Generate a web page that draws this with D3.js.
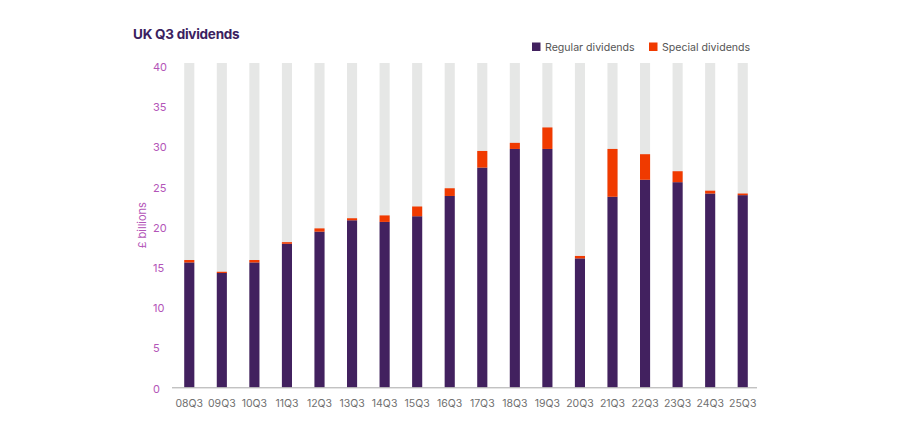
<!DOCTYPE html>
<html>
<head>
<meta charset="utf-8">
<script src="https://cdn.jsdelivr.net/npm/d3@7"></script>
<style>
  html, body { margin: 0; padding: 0; background: #fff; }
  #chart { width: 900px; height: 433px; }
  text { font-family: Inter, "Noto Sans", sans-serif; }
</style>
</head>
<body>
<div id="chart"></div>
<script>
// UK Q3 dividends, £ billions
const quarters = ['08Q3', '09Q3', '10Q3', '11Q3', '12Q3', '13Q3', '14Q3', '15Q3', '16Q3',
  '17Q3', '18Q3', '19Q3', '20Q3', '21Q3', '22Q3', '23Q3', '24Q3', '25Q3'];
const regular = [15.4, 14.1, 15.4, 17.7, 19.2, 20.6, 20.4, 21.1, 23.6,
  27.1, 29.4, 29.4, 15.9, 23.5, 25.6, 25.3, 23.9, 23.7];
const special = [0.3, 0.15, 0.3, 0.2, 0.4, 0.25, 0.8, 1.2, 0.95,
  2.05, 0.75, 2.65, 0.3, 5.9, 3.15, 1.35, 0.35, 0.2];
const yTicks = [0, 5, 10, 15, 20, 25, 30, 35, 40];
const legendItems = [
  { key: 'regular', label: 'Regular dividends' },
  { key: 'special', label: 'Special dividends' }
];

const COLORS = { regular: '#42215f', special: '#f03a00', back: '#e6e7e6' };

(function () {
  const W = 900, H = 433;
  const svg = d3.select('#chart').append('svg')
    .attr('width', W).attr('height', H)
    .attr('viewBox', `0 0 ${W} ${H}`);

  const rows = quarters.map((q, i) => ({ q, regular: regular[i], special: special[i] }));

  const x = d3.scaleBand().domain(quarters).range([173, 759]).paddingInner(0.69).paddingOuter(0.345);
  const y = d3.scaleLinear().domain([0, 40]).range([387.3, 63]);

  // grey background columns
  svg.append('g').selectAll('rect')
    .data(rows).enter().append('rect')
    .attr('x', d => x(d.q)).attr('width', x.bandwidth())
    .attr('y', y(40)).attr('height', y(0) - y(40))
    .attr('fill', COLORS.back);

  const layers = d3.stack().keys(['regular', 'special'])(rows);
  svg.append('g').selectAll('g')
    .data(layers).enter().append('g')
    .attr('fill', d => COLORS[d.key])
    .selectAll('rect')
    .data(d => d).enter().append('rect')
    .attr('x', d => x(d.data.q)).attr('width', x.bandwidth())
    .attr('y', d => y(d[1])).attr('height', d => y(d[0]) - y(d[1]));

  // baseline
  svg.append('line')
    .attr('x1', 172).attr('x2', 757)
    .attr('y1', y(0) + 0.5).attr('y2', y(0) + 0.5)
    .attr('stroke', '#a9a9a9').attr('stroke-width', 1);

  // y tick labels
  svg.append('g').selectAll('text')
    .data(yTicks).enter().append('text')
    .attr('x', 153).attr('y', d => y(d) + 1.5 + (d / 40) * 2.5)
    .attr('dy', '0.35em')
    .style('font-size', '11px').style('fill', '#b355b8')
    .text(d => d);

  svg.append('text')
    .attr('text-anchor', 'middle')
    .attr('transform', `translate(145.5,${y(20) + 0})rotate(-90)`)
    .style('font-size', '11px').style('fill', '#b355b8')
    .text('£ billions');

  // x labels
  svg.append('g').selectAll('text')
    .data(quarters).enter().append('text')
    .attr('x', d => x(d) + x.bandwidth() / 2).attr('y', 406.5)
    .attr('text-anchor', 'middle')
    .style('font-size', '10.5px').style('fill', '#707070')
    .text(d => d);

  // title
  svg.append('text')
    .attr('x', 133).attr('y', 38.5)
    .style('font-size', '13.5px').style('font-weight', 700)
    .style('fill', '#3b2160').style('letter-spacing', '-0.25px')
    .text('UK Q3 dividends');

  // legend
  const legendX = [532, 649];
  const lg = svg.append('g').selectAll('g')
    .data(legendItems).enter().append('g')
    .attr('transform', (d, i) => `translate(${legendX[i]},42.5)`);
  lg.append('rect').attr('width', 8.5).attr('height', 8.5)
    .attr('fill', d => COLORS[d.key]);
  lg.append('text').attr('x', 13).attr('y', 8)
    .style('font-size', '10.6px').style('fill', '#555')
    .text(d => d.label);
})();
</script>
</body>
</html>
